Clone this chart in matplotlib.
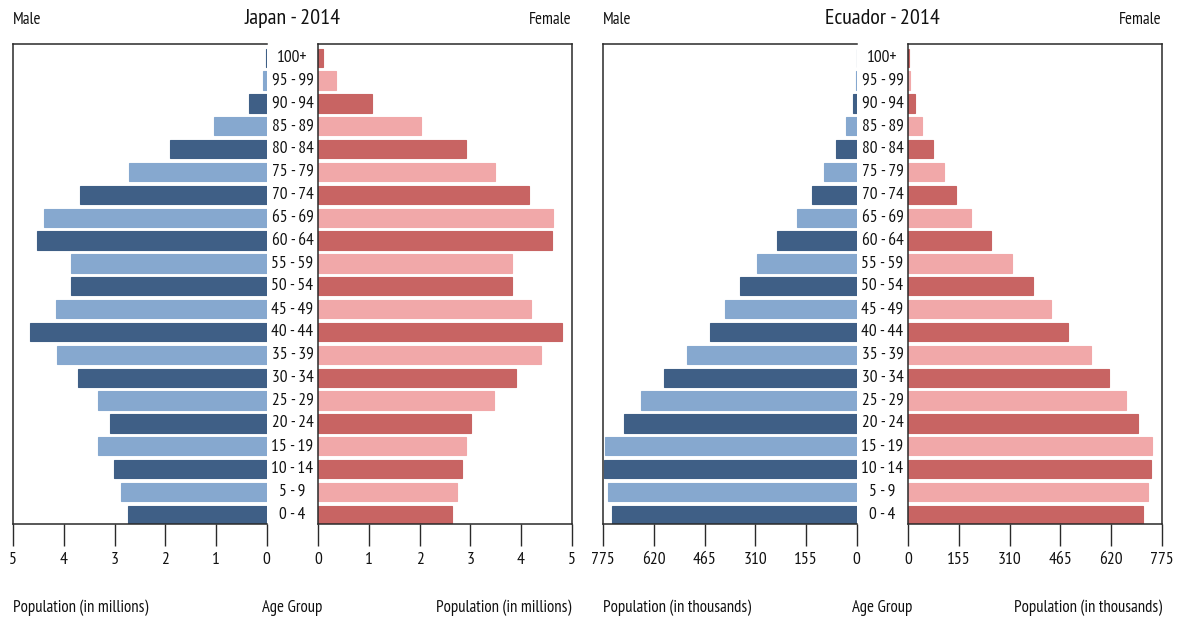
import matplotlib
matplotlib.use("Agg")
import matplotlib.pyplot as plt
import matplotlib.transforms as mtransforms

plt.rcParams['font.family'] = ['PT Sans Narrow', 'Open Sans Condensed', 'IBM Plex Sans Condensed', 'DejaVu Sans']

age_groups = ["0 - 4", "5 - 9", "10 - 14", "15 - 19", "20 - 24", "25 - 29", "30 - 34",
              "35 - 39", "40 - 44", "45 - 49", "50 - 54", "55 - 59", "60 - 64", "65 - 69",
              "70 - 74", "75 - 79", "80 - 84", "85 - 89", "90 - 94", "95 - 99", "100+"]

japan_male = [2.74, 2.87, 3.02, 3.32, 3.10, 3.32, 3.73, 4.14, 4.68, 4.16, 3.86,
              3.86, 4.54, 4.40, 3.69, 2.71, 1.91, 1.03, 0.35, 0.07, 0.01]
japan_female = [2.64, 2.74, 2.84, 2.92, 3.01, 3.46, 3.90, 4.40, 4.81, 4.19, 3.82,
                3.82, 4.62, 4.64, 4.15, 3.49, 2.92, 2.03, 1.05, 0.35, 0.09]
ecuador_male = [749, 761, 772, 771, 711, 659, 589, 520, 449, 402, 358,
                304, 243, 183, 137, 99, 64, 33, 11, 2, 0.5]
ecuador_female = [719, 733, 741, 745, 701, 667, 615, 560, 487, 435, 381,
                  317, 254, 191, 147, 109, 75, 43, 19, 6, 2]

japan_ticks = [0, 1, 2, 3, 4, 5]
ecuador_ticks = [0, 155, 310, 465, 620, 775]

male_colors = ["#3f5f86", "#86a8cf"]
female_colors = ["#c86463", "#f1a8a9"]

W, H = 1178, 619
fig = plt.figure(figsize=(W / 100, H / 100), dpi=100)

def fx(px):
    return px / W

def fy(py):
    return 1 - py / H

# fit the font size so that the axis caption has the reference width (~135 px)
renderer = fig.canvas.get_renderer()
probe = fig.text(0, 0, "Population (in millions)", fontsize=12)
w = probe.get_window_extent(renderer).width
probe.remove()
FS = 12 * 135.0 / w
TFS = FS * 1.32

ax_top, ax_bot = 44, 524
panels = [
    dict(title="Japan - 2014", male=japan_male, female=japan_female, ticks=japan_ticks,
         xmax=5, unit="Population (in millions)", lx0=13.3, lx1=266.7, rx0=318.3, rx1=571.7),
    dict(title="Ecuador - 2014", male=ecuador_male, female=ecuador_female, ticks=ecuador_ticks,
         xmax=775, unit="Population (in thousands)", lx0=603.3, lx1=856.7, rx0=908.3, rx1=1161.7),
]

spine_color = "#2a2a2a"
txt = "#111111"
for p in panels:
    axL = fig.add_axes([fx(p["lx0"]), fy(ax_bot), fx(p["lx1"] - p["lx0"]), (ax_bot - ax_top) / H])
    axR = fig.add_axes([fx(p["rx0"]), fy(ax_bot), fx(p["rx1"] - p["rx0"]), (ax_bot - ax_top) / H])
    ypos = list(range(len(age_groups)))
    mc = [male_colors[i % 2] for i in ypos]
    fc = [female_colors[i % 2] for i in ypos]
    axL.barh(ypos, p["male"], height=0.8, color=mc, edgecolor=mc, linewidth=0.8)
    axR.barh(ypos, p["female"], height=0.8, color=fc, edgecolor=fc, linewidth=0.8)
    axL.set_xlim(p["xmax"], 0)
    axR.set_xlim(0, p["xmax"])
    for ax in (axL, axR):
        ax.set_ylim(-0.4, 20.6)
        ax.set_yticks([])
        ax.set_xticks(p["ticks"])
        ax.set_xticklabels([str(t) for t in p["ticks"]])
        ax.tick_params(axis="x", direction="out", length=16, width=1, pad=4,
                       labelsize=FS * 1.05, color=spine_color, labelcolor=txt)
        for s in ax.spines.values():
            s.set_color(spine_color)
            s.set_linewidth(1.1)
    axL.spines["right"].set_visible(False)

    cx = (p["lx1"] + p["rx0"]) / 2
    trans = mtransforms.blended_transform_factory(fig.transFigure, axR.transData)
    for i, lab in enumerate(age_groups):
        fig.text(fx(cx), i, lab, transform=trans, ha="center", va="center",
                 fontsize=FS * 1.03, color=txt)

    fig.text(fx(cx), fy(18), p["title"], ha="center", va="center", fontsize=TFS, color=txt)
    fig.text(fx(p["lx0"]), fy(20), "Male", ha="left", va="center", fontsize=FS, color=txt)
    fig.text(fx(p["rx1"]), fy(20), "Female", ha="right", va="center", fontsize=FS, color=txt)
    fig.text(fx(p["lx0"]), fy(608), p["unit"], ha="left", va="center", fontsize=FS, color=txt)
    fig.text(fx(cx), fy(608), "Age Group", ha="center", va="center", fontsize=FS, color=txt)
    fig.text(fx(p["rx1"]), fy(608), p["unit"], ha="right", va="center", fontsize=FS, color=txt)

fig.savefig("out.png", dpi=100)
